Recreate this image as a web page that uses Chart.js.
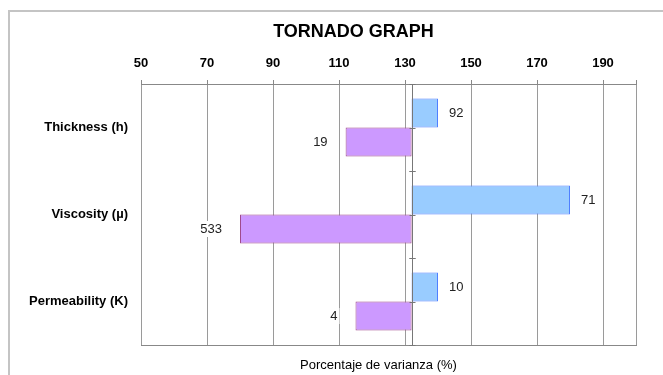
<!DOCTYPE html>
<html>
<head>
<meta charset="utf-8">
<script src="https://cdn.jsdelivr.net/npm/chart.js@4.4.1/dist/chart.umd.min.js"></script>
<style>
  html, body { margin: 0; padding: 0; background: #fff; overflow: hidden; }
  #frame { position: absolute; left: 8px; top: 10px; width: 700px; height: 400px; border: 2px solid #c4c4c4; }
  #chart { position: absolute; left: 0; top: 0; }
</style>
</head>
<body>
<div id="frame"></div>
<canvas id="chart" width="663" height="375"></canvas>
<script>
(function(){

  // values
  const categories = ['Thickness (h)', 'Viscosity (µ)', 'Permeability (K)'];
  const baseValue = 132;
  const highValues = [140, 180, 140];
  const lowValues = [112, 80, 115];
  const highLabels = ['92', '71', '10'];
  const lowLabels = ['19', '533', '4'];
  const xTicks = [50, 70, 90, 110, 130, 150, 170, 190, 200];

  const FONT = '"Liberation Sans", Arial, sans-serif';
  Chart.defaults.font.family = FONT;
  Chart.defaults.color = '#000';

  const gridColor = '#9a9a9a';

  // extra bits: the crossing axis at the base value, data labels and the two titles
  const tornadoExtras = {
    id: 'tornadoExtras',
    afterDatasetsDraw(chart) {
      const ctx = chart.ctx;
      const xs = chart.scales.x, ys = chart.scales.y, area = chart.chartArea;
      const axisX = Math.round(xs.getPixelForValue(baseValue)) + 0.5;

      ctx.save();
      ctx.strokeStyle = '#777';
      ctx.lineWidth = 1;
      ctx.beginPath();
      ctx.moveTo(axisX, area.top);
      ctx.lineTo(axisX, area.bottom);
      for (let i = 0; i < categories.length; i++) {
        [i - 0.5, i, i + 0.5].forEach(v => {
          const py = Math.round(ys.getPixelForValue(v)) + 0.5;
          ctx.moveTo(axisX - 3, py);
          ctx.lineTo(axisX + 3, py);
        });
      }
      ctx.stroke();

      // data labels
      ctx.font = '13px ' + FONT;
      ctx.textBaseline = 'middle';
      const drawLabel = (text, px, py, align) => {
        const w = ctx.measureText(text).width;
        const left = align === 'left' ? px : px - w;
        ctx.fillStyle = '#fff';
        ctx.fillRect(left - 2, py - 8, w + 4, 16);
        ctx.fillStyle = '#222';
        ctx.textAlign = align;
        ctx.fillText(text, px, py);
      };
      chart.getDatasetMeta(0).data.forEach((bar, i) => {
        drawLabel(highLabels[i], Math.max(bar.x, bar.base) + 11, bar.y, 'left');
      });
      chart.getDatasetMeta(1).data.forEach((bar, i) => {
        drawLabel(lowLabels[i], Math.min(bar.x, bar.base) - 18, bar.y, 'right');
      });

      // titles
      ctx.fillStyle = '#000';
      ctx.textAlign = 'center';
      ctx.font = 'bold 18px ' + FONT;
      ctx.fillText('TORNADO GRAPH', (area.left + area.right) / 2 - 35, 32);
      ctx.font = '13px ' + FONT;
      ctx.fillText('Porcentaje de varianza (%)', (area.left + area.right) / 2 - 10, 365);
      ctx.restore();
    }
  };

  new Chart(document.getElementById('chart'), {
    type: 'bar',
    data: {
      labels: categories,
      datasets: [
        {
          data: highValues.map(v => [baseValue, v]),
          backgroundColor: '#99ccff',
          borderColor: '#4f7fff',
          borderWidth: 1,
          borderSkipped: false
        },
        {
          data: lowValues.map(v => [v, baseValue]),
          backgroundColor: '#cc99ff',
          borderColor: '#a04a8c',
          borderWidth: 1,
          borderSkipped: false
        }
      ]
    },
    options: {
      indexAxis: 'y',
      responsive: false,
      animation: false,
      categoryPercentage: 0.667,
      barPercentage: 1.0,
      layout: { padding: { left: 0, right: 27, top: 0, bottom: 0 } },
      plugins: {
        legend: { display: false },
        tooltip: { enabled: false },
        title: { display: false }
      },
      scales: {
        x: {
          type: 'linear',
          position: 'top',
          min: 50,
          max: 200,
          afterBuildTicks: scale => { scale.ticks = xTicks.map(v => ({ value: v })); },
          afterFit: scale => { scale.height = 84; },
          ticks: {
            padding: 9,
            font: { size: 13, weight: 'bold' },
            color: '#000',
            callback: v => (v === 200 ? '' : v)
          },
          grid: { color: gridColor, tickLength: 4, tickColor: '#888' },
          border: { display: true, color: '#888' }
        },
        x2: {
          type: 'linear',
          position: 'bottom',
          min: 50,
          max: 200,
          afterFit: scale => { scale.height = 30; },
          ticks: { display: false },
          grid: { display: false, drawTicks: false },
          border: { display: true, color: '#888' }
        },
        y: {
          type: 'category',
          afterFit: scale => { scale.width = 141; },
          ticks: { padding: 13, font: { size: 13, weight: 'bold' }, color: '#000' },
          grid: { display: false, drawTicks: false },
          border: { display: false }
        }
      }
    },
    plugins: [tornadoExtras]
  });
})();
</script>
</body>
</html>
